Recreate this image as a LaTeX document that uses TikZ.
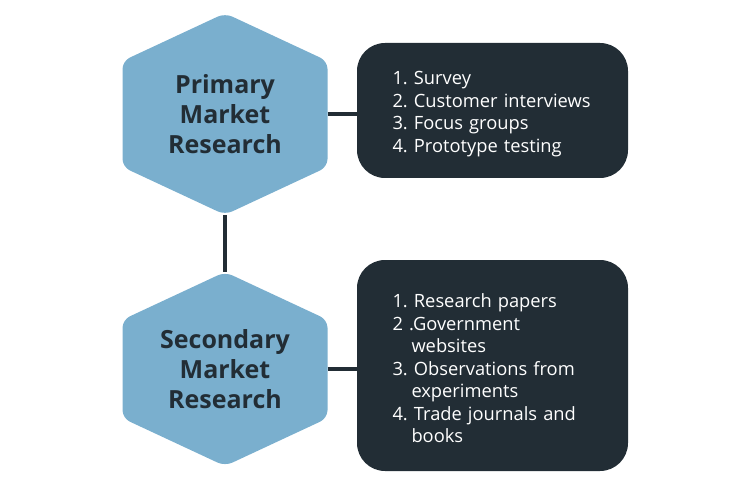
\documentclass[tikz,border=0pt]{standalone}
\usepackage{fontspec}
\setmainfont{Open Sans}
\usepackage{xcolor}
\usepackage{tikz}
\usetikzlibrary{positioning,shapes.symbols}
\definecolor{hexblue}{RGB}{122,175,206}
\definecolor{darkslate}{RGB}{34,45,53}
\frenchspacing
\tikzset{
   hexa/.style={
      shape=signal,
      signal to=north and south,
      signal pointer angle=130,
      fill=hexblue,
      minimum width=205pt,
      minimum height=159pt,
      inner sep=0pt,
      rounded corners=8pt,
      text=darkslate,
      align=center,
      font=\bfseries\fontsize{25}{30}\selectfont},
   listbox/.style={
      fill=darkslate,
      rounded corners=28pt,
      text width=200pt,
      inner xsep=35.5pt,
      inner ysep=0pt,
      align=left,
      text=white,
      execute at begin node={\rule{0pt}{20pt}},
      font=\fontsize{18.3}{22.5}\selectfont},
   link/.style={draw=darkslate, line width=4pt}
}

\begin{document}
\begin{tikzpicture}[x=1pt,y=-1pt]
        \useasboundingbox (0,0) rectangle (751,486);

        % Hexagons
        \node[hexa] (primary) at (225,114) {Primary\\Market\\Research};
        \node[hexa] (secondary) at (225,369) {Secondary\\Market\\Research};

        % Lists
        \node[listbox, minimum height=135pt] (primarylist) at (492.5,110.5)
           {1. Survey\\2. Customer interviews\\3. Focus groups\\4. Prototype testing};
        \node[listbox, minimum height=211pt] (secondarylist) at (492.5,365.5)
           {1. Research papers\\2 .Government\\\hspace*{19pt}websites\\3. Observations from\\\hspace*{19pt}experiments\\4. Trade journals and\\\hspace*{19pt}books};

        % Links
        \draw[link] (primary.south) -- (secondary.north);
        \draw[link] (primary.east) -- (primary.east -| primarylist.west);
        \draw[link] (secondary.east) -- (secondary.east -| secondarylist.west);
    \end{tikzpicture}
\end{document}
